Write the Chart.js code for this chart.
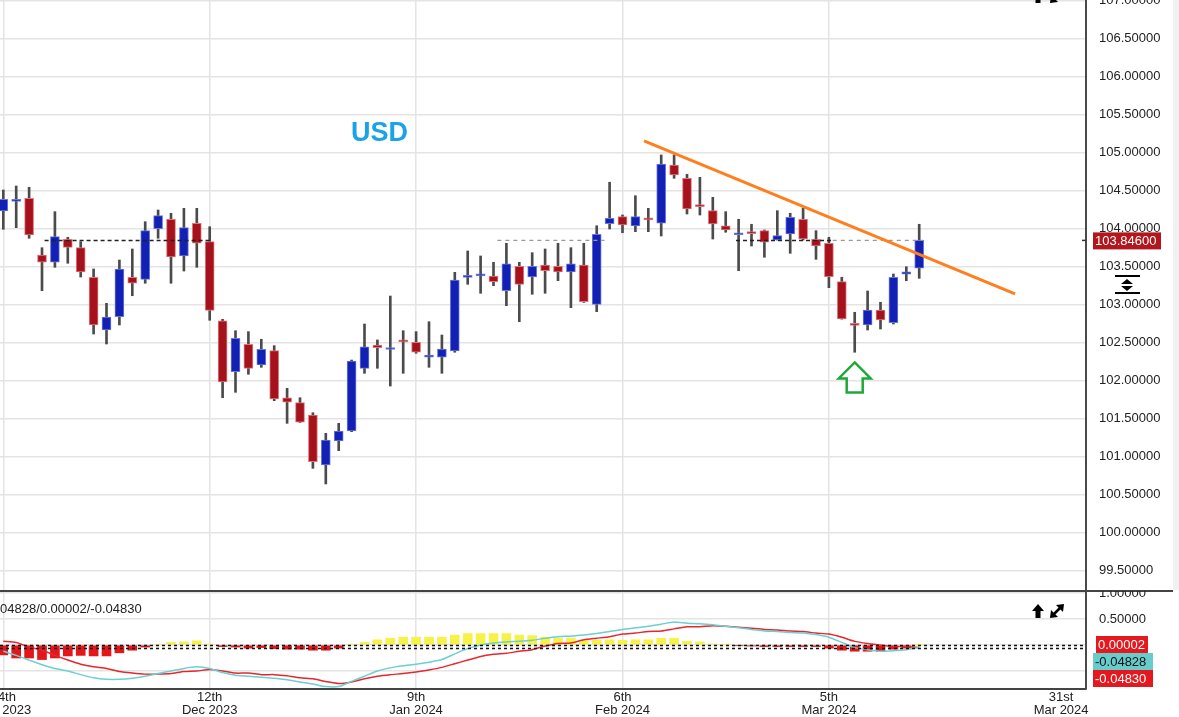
<!DOCTYPE html>
<html lang="en">
  <head>
    <meta charset="UTF-8" />
    <title>USD daily</title>
    <script src="https://cdn.jsdelivr.net/npm/chart.js@4.4.1/dist/chart.umd.min.js"></script>
    <style>
      body {
        margin: 0;
        width: 1179px;
        height: 717px;
        overflow: hidden;
        position: relative;
        background: #fff;
        font-family: "Liberation Sans", Arial, sans-serif;
      }
      #priceChart {
        position: absolute;
        left: 0;
        top: 0;
      }
      #macdChart {
        position: absolute;
        left: 0;
        top: 591px;
      }
      .symbol {
        position: absolute;
        left: 351px;
        top: 117px;
        color: #1aa3e6;
        font: bold 27px "Liberation Sans", Arial, sans-serif;
      }
    </style>
  </head>
  <body>
    <canvas id="priceChart" width="1179" height="592"></canvas>
    <canvas id="macdChart" width="1179" height="126"></canvas>
    <div class="symbol">USD</div>

    <script>
      // daily candles, mid Nov 2023 -> mid Mar 2024 (one per trading day)
      const opens = [
        104.233, 104.36, 104.4, 103.654, 103.558, 103.861, 103.75, 103.361, 102.667, 102.842,
        103.361, 103.334, 104.0, 104.124, 103.641, 104.071, 103.829, 102.789, 102.118, 102.479,
        102.207, 102.395, 101.776, 101.711, 101.549, 100.891, 101.207, 101.338, 102.163, 102.47,
        102.41, 102.52, 102.505, 102.308, 102.308, 102.391, 103.36, 103.38, 103.378, 103.184,
        103.505, 103.364, 103.522, 103.505, 103.43, 103.522, 103.005, 104.066, 104.158, 104.036,
        104.137, 104.071, 104.838, 104.663, 104.303, 104.237, 104.039, 103.92, 103.947, 103.974,
        103.851, 103.93, 104.124, 103.861, 103.808, 103.303, 102.74, 102.733, 102.93, 102.763,
        103.4, 103.479,
      ];
      const highs = [
        104.509, 104.562, 104.545, 103.75, 104.224, 103.887, 103.829, 103.47, 103.018, 103.588,
        103.733, 104.092, 104.246, 104.203, 104.268, 104.268, 104.026, 102.808, 102.658, 102.645,
        102.545, 102.461, 101.9, 101.776, 101.579, 101.308, 101.439, 102.272, 102.746, 102.536,
        103.114, 102.658, 102.645, 102.776, 102.601, 103.426, 103.707, 103.641, 103.558, 103.808,
        103.558, 103.684, 103.733, 103.808, 103.75, 103.808, 104.039, 104.611, 104.18, 104.434,
        104.268, 104.97, 104.97, 104.716, 104.676, 104.413, 104.224, 104.124, 104.058, 103.983,
        104.237, 104.203, 104.268, 103.974, 103.887, 103.361, 102.9, 103.18, 103.032, 103.404,
        103.5, 104.058,
      ];
      const lows = [
        103.992, 104.013, 103.874, 103.184, 103.492, 103.545, 103.364, 102.614, 102.483, 102.733,
        103.118, 103.282, 103.874, 103.282, 103.443, 103.492, 102.795, 101.776, 101.847, 102.084,
        102.176, 101.737, 101.439, 101.45, 100.847, 100.641, 101.079, 101.329, 102.097, 102.163,
        101.93, 102.097, 102.361, 102.176, 102.097, 102.374, 103.268, 103.15, 103.25, 102.987,
        102.776, 103.137, 103.15, 103.316, 102.961, 103.03, 102.908, 103.996, 103.947, 103.961,
        103.961, 103.904, 104.663, 104.193, 104.18, 103.864, 103.953, 103.447, 103.772, 103.624,
        103.85, 103.676, 103.851, 103.597, 103.224, 102.81, 102.374, 102.667, 102.68, 102.746,
        103.316, 103.347,
      ];
      const closes = [
        104.387, 104.372, 103.917, 103.558, 103.895, 103.755, 103.43, 102.733, 102.838, 103.47,
        103.282, 103.974, 104.171, 103.628, 104.013, 103.808, 102.926, 101.983, 102.558, 102.163,
        102.413, 101.759, 101.716, 101.453, 100.934, 101.22, 101.338, 102.259, 102.447, 102.434,
        102.418, 102.51, 102.374, 102.338, 102.417, 103.325, 103.37, 103.39, 103.303, 103.536,
        103.268, 103.505, 103.447, 103.43, 103.536, 103.039, 103.926, 104.137, 104.049, 104.158,
        104.115, 104.851, 104.707, 104.259, 104.29, 104.062, 103.983, 103.926, 103.934, 103.821,
        103.908, 104.15, 103.864, 103.772, 103.368, 102.812, 102.728, 102.93, 102.799, 103.361,
        103.434, 103.846,
      ];

      // MACD pane
      const macdLine = [
        -0.12, -0.2, -0.29, -0.38, -0.45, -0.5, -0.57, -0.63, -0.66, -0.66,
        -0.64, -0.6, -0.55, -0.5, -0.45, -0.42, -0.45, -0.53, -0.58, -0.6,
        -0.62, -0.64, -0.67, -0.71, -0.75, -0.8, -0.8, -0.7, -0.6, -0.5,
        -0.44, -0.4, -0.37, -0.33, -0.28, -0.17, -0.07, 0.0, 0.04, 0.06,
        0.07, 0.09, 0.13, 0.16, 0.17, 0.19, 0.22, 0.26, 0.3, 0.33,
        0.36, 0.4, 0.44, 0.42, 0.41, 0.39, 0.36, 0.33, 0.3, 0.27,
        0.26, 0.24, 0.23, 0.2, 0.15, 0.05, -0.05, -0.09, -0.12, -0.11,
        -0.09, -0.04828,
      ];
      const signalLine = [
        0.07, 0.05, -0.04, -0.1, -0.2, -0.29, -0.37, -0.42, -0.45, -0.51,
        -0.54, -0.56, -0.56, -0.55, -0.51, -0.5, -0.47, -0.5, -0.54, -0.54,
        -0.57, -0.57, -0.59, -0.63, -0.65, -0.7, -0.74, -0.71, -0.65, -0.6,
        -0.57, -0.55, -0.52, -0.48, -0.43, -0.36, -0.29, -0.22, -0.18, -0.16,
        -0.12, -0.09, -0.02, 0.03, 0.04, 0.1, 0.13, 0.16, 0.21, 0.23,
        0.26, 0.27, 0.31, 0.35, 0.35, 0.37, 0.36, 0.34, 0.32, 0.3,
        0.29, 0.27, 0.26, 0.23, 0.21, 0.15, 0.07, 0.03, 0.0, -0.03,
        -0.03, -0.0483,
      ];
      const histValues = [
        -0.19, -0.25, -0.25, -0.28, -0.25, -0.21, -0.2, -0.21, -0.21, -0.15,
        -0.1, -0.04, 0.01, 0.05, 0.06, 0.08, 0.02, -0.03, -0.04, -0.06,
        -0.05, -0.07, -0.08, -0.08, -0.1, -0.1, -0.06, 0.01, 0.05, 0.1,
        0.13, 0.15, 0.15, 0.15, 0.15, 0.19, 0.22, 0.22, 0.22, 0.22,
        0.19, 0.18, 0.15, 0.13, 0.13, 0.09, 0.09, 0.1, 0.09, 0.1,
        0.1, 0.13, 0.13, 0.07, 0.06, 0.02, 0.005, -0.01, -0.02, -0.03,
        -0.03, -0.03, -0.03, -0.03, -0.06, -0.1, -0.12, -0.12, -0.12, -0.08,
        -0.06, 0.00002,
      ];

      // axis ticks (x in trading-day index)
      const gridTicks = [0, 16, 32, 48, 64];
      const dateTicks = [0, 16, 32, 48, 64, 82];
      const dateLabels = [
        ["14th", "Nov 2023"],
        ["12th", "Dec 2023"],
        ["9th", "Jan 2024"],
        ["6th", "Feb 2024"],
        ["5th", "Mar 2024"],
        ["31st", "Mar 2024"],
      ];
      const priceTicks = [99.5, 100, 100.5, 101, 101.5, 102, 102.5, 103, 103.5, 104, 104.5, 105, 105.5, 106, 106.5, 107];
      const macdTicks = [-0.5, 0, 0.5, 1];

      // drawn annotations
      const trendIdx = [49.67, 78.43];
      const trendVal = [105.154, 103.141];
      const levelBlack = [[3.2, 16.2], [56.8, 64.3]];
      const levelGray = [[38.3, 46.6], [64.3, 71.3]];
      const arrowIdx = 66;
      const arrowVal = 102.24;

      const FONT = '"Liberation Sans", Arial, sans-serif';
      Chart.defaults.font.family = FONT;

      const lastClose = closes[closes.length - 1];
      const isUp = closes.map((c, i) => c >= opens[i]);

      const bodies = closes.map((c, i) => ({ x: i, y: [opens[i], c] }));
      const wicks = closes.map((c, i) => ({ x: i, y: [lows[i], highs[i]] }));
      const trendPoints = trendIdx.map((x, i) => ({ x: x, y: trendVal[i] }));

      function levelPoints(spans) {
        const pts = [];
        spans.forEach((s) => {
          pts.push({ x: s[0], y: lastClose }, { x: s[1], y: lastClose }, { x: s[1] + 0.01, y: null });
        });
        return pts;
      }

      // kill the label padding Chart.js reserves around axes
      function noPad(s) {
        s.paddingTop = 0;
        s.paddingBottom = 0;
        s.paddingLeft = 0;
        s.paddingRight = 0;
      }

      function drawUpIcon(ctx, cx, top) {
        ctx.fillStyle = "#000";
        ctx.beginPath();
        ctx.moveTo(cx, top);
        ctx.lineTo(cx - 6, top + 7);
        ctx.lineTo(cx + 6, top + 7);
        ctx.closePath();
        ctx.fill();
        ctx.fillRect(cx - 2.5, top + 7, 5, 7);
      }

      function drawExpandIcon(ctx, x0, top) {
        ctx.strokeStyle = "#000";
        ctx.fillStyle = "#000";
        ctx.lineWidth = 2.5;
        ctx.beginPath();
        ctx.moveTo(x0 + 3, top + 11);
        ctx.lineTo(x0 + 11, top + 3);
        ctx.stroke();
        ctx.beginPath();
        ctx.moveTo(x0 + 14, top);
        ctx.lineTo(x0 + 6, top + 1);
        ctx.lineTo(x0 + 13, top + 8);
        ctx.closePath();
        ctx.fill();
        ctx.beginPath();
        ctx.moveTo(x0, top + 14);
        ctx.lineTo(x0 + 1, top + 6);
        ctx.lineTo(x0 + 8, top + 13);
        ctx.closePath();
        ctx.fill();
      }

      const priceOverlay = {
        id: "priceOverlay",
        afterDraw(chart) {
          const { ctx, chartArea, scales } = chart;
          const right = chartArea.right;
          ctx.save();

          // light strip at the far right
          ctx.fillStyle = "#f1f1f1";
          ctx.fillRect(right + 87, 0, chart.width - right - 87, chartArea.bottom);

          // last price tag
          const py = scales.y.getPixelForValue(lastClose);
          ctx.strokeStyle = "#333";
          ctx.lineWidth = 1.5;
          ctx.beginPath();
          ctx.moveTo(right - 4, py);
          ctx.lineTo(right, py);
          ctx.stroke();
          ctx.fillStyle = "#b3171e";
          ctx.fillRect(right + 7, py - 8, 68, 17);
          ctx.fillStyle = "#fff";
          ctx.font = "13px " + FONT;
          ctx.textAlign = "left";
          ctx.textBaseline = "middle";
          ctx.fillText(lastClose.toFixed(5), right + 9, py + 1);

          // pane resize handle
          const hx = right + 41;
          ctx.fillStyle = "#000";
          ctx.fillRect(hx - 12, 275, 25, 2);
          ctx.fillRect(hx - 12, 292, 25, 2);
          ctx.beginPath();
          ctx.moveTo(hx, 279);
          ctx.lineTo(hx - 6, 284);
          ctx.lineTo(hx + 6, 284);
          ctx.closePath();
          ctx.fill();
          ctx.beginPath();
          ctx.moveTo(hx, 291);
          ctx.lineTo(hx - 6, 286);
          ctx.lineTo(hx + 6, 286);
          ctx.closePath();
          ctx.fill();

          // hollow green arrow under the low
          const ax = scales.x.getPixelForValue(arrowIdx);
          const ay = scales.y.getPixelForValue(arrowVal);
          ctx.strokeStyle = "#1fa83a";
          ctx.lineWidth = 2.5;
          ctx.lineJoin = "miter";
          ctx.beginPath();
          ctx.moveTo(ax, ay);
          ctx.lineTo(ax + 16, ay + 16);
          ctx.lineTo(ax + 8, ay + 16);
          ctx.lineTo(ax + 8, ay + 30);
          ctx.lineTo(ax - 8, ay + 30);
          ctx.lineTo(ax - 8, ay + 16);
          ctx.lineTo(ax - 16, ay + 16);
          ctx.closePath();
          ctx.stroke();

          // clipped toolbar icons at the very top
          drawUpIcon(ctx, 1038, -11);
          drawExpandIcon(ctx, 1050, -11);

          // pane separator
          ctx.strokeStyle = "#444";
          ctx.lineWidth = 2;
          ctx.beginPath();
          ctx.moveTo(0, chartArea.bottom + 1);
          ctx.lineTo(right + 87, chartArea.bottom + 1);
          ctx.stroke();
          ctx.restore();
        },
      };

      new Chart(document.getElementById("priceChart"), {
        type: "bar",
        data: {
          datasets: [
            {
              type: "line",
              data: trendPoints,
              borderColor: "#ff7f1f",
              borderWidth: 3,
              pointRadius: 0,
              order: 0,
            },
            {
              type: "line",
              data: levelPoints(levelBlack),
              borderColor: "#222",
              borderWidth: 1.5,
              borderDash: [4, 3],
              pointRadius: 0,
              spanGaps: false,
              order: 0,
            },
            {
              type: "line",
              data: levelPoints(levelGray),
              borderColor: "#9a9a9a",
              borderWidth: 1.2,
              borderDash: [4, 4],
              pointRadius: 0,
              spanGaps: false,
              order: 0,
            },
            {
              data: bodies,
              backgroundColor: isUp.map((u) => (u ? "#1220b4" : "#a5121b")),
              borderColor: isUp.map((u) => (u ? "#6a78e0" : "#e0777c")),
              borderWidth: 1,
              borderSkipped: false,
              barThickness: 9,
              minBarLength: 2,
              grouped: false,
              order: 1,
            },
            {
              data: wicks,
              backgroundColor: "#4b4b4b",
              barThickness: 2,
              grouped: false,
              order: 2,
            },
          ],
        },
        options: {
          responsive: false,
          animation: false,
          layout: { padding: { top: 0, left: 0, right: 0, bottom: 2 } },
          plugins: { legend: { display: false }, tooltip: { enabled: false } },
          scales: {
            x: {
              type: "linear",
              min: -0.256,
              max: 83.93,
              offset: false,
              grid: {
                color: (c) => (c.tick && gridTicks.includes(c.tick.value) ? "#e4e4e4" : "transparent"),
                lineWidth: 1.5,
                drawTicks: false,
                offset: false,
              },
              border: { display: false },
              ticks: { display: false },
              afterBuildTicks: (s) => {
                s.ticks = gridTicks.map((v) => ({ value: v }));
              },
              afterFit: (s) => {
                s.height = 0;
                noPad(s);
              },
            },
            y: {
              position: "right",
              min: 99.246,
              max: 107.009,
              grid: { color: "#e4e4e4", lineWidth: 1.5, drawTicks: false },
              border: { display: true, color: "#4a4a4a", width: 2 },
              ticks: {
                padding: 13,
                color: "#222",
                font: { size: 13 },
                callback: (v) => Number(v).toFixed(5),
              },
              afterBuildTicks: (s) => {
                s.ticks = priceTicks.map((v) => ({ value: v }));
              },
              afterFit: (s) => {
                s.width = 93;
                noPad(s);
              },
            },
          },
        },
        plugins: [priceOverlay],
      });

      const macdOverlay = {
        id: "macdOverlay",
        afterDatasetsDraw(chart) {
          const { ctx, chartArea, scales } = chart;
          ctx.save();
          ctx.strokeStyle = "#111";
          ctx.lineWidth = 1.5;
          ctx.setLineDash([3, 3]);
          [histValues[histValues.length - 1], macdLine[macdLine.length - 1]].forEach((v) => {
            const y = Math.round(scales.y.getPixelForValue(v)) + 0.5;
            ctx.beginPath();
            ctx.moveTo(0, y);
            ctx.lineTo(chartArea.right, y);
            ctx.stroke();
          });
          ctx.restore();
        },
        afterDraw(chart) {
          const { ctx, chartArea } = chart;
          const right = chartArea.right;
          const h = histValues[histValues.length - 1];
          const m = macdLine[macdLine.length - 1];
          const s = signalLine[signalLine.length - 1];
          ctx.save();
          ctx.font = "13px " + FONT;
          ctx.textBaseline = "middle";
          ctx.textAlign = "left";

          // header values, partly off the left edge
          const head = m.toFixed(5) + "/" + h.toFixed(5) + "/" + s.toFixed(5);
          ctx.fillStyle = "#222";
          ctx.fillText(head, -ctx.measureText("-0.").width, 18);

          drawUpIcon(ctx, 1038, 13);
          drawExpandIcon(ctx, 1050, 13);

          const boxes = [
            { text: h.toFixed(5), bg: "#e3191f", fg: "#fff", y: 53, x: right + 10, w: 52 },
            { text: m.toFixed(5), bg: "#66cccc", fg: "#111", y: 70, x: right + 7, w: 60 },
            { text: s.toFixed(5), bg: "#e3191f", fg: "#fff", y: 87, x: right + 7, w: 60 },
          ];
          boxes.forEach((b) => {
            ctx.fillStyle = b.bg;
            ctx.fillRect(b.x, b.y - 8, b.w, 17);
            ctx.fillStyle = b.fg;
            ctx.fillText(b.text, b.x + 2, b.y + 1);
          });
          ctx.restore();
        },
      };

      new Chart(document.getElementById("macdChart"), {
        type: "bar",
        data: {
          datasets: [
            {
              type: "line",
              data: macdLine.map((v, i) => ({ x: i, y: v })),
              borderColor: "#6ccfd0",
              borderWidth: 1.5,
              pointRadius: 0,
              tension: 0.2,
              order: 0,
            },
            {
              type: "line",
              data: signalLine.map((v, i) => ({ x: i, y: v })),
              borderColor: "#e8262d",
              borderWidth: 1.5,
              pointRadius: 0,
              tension: 0.2,
              order: 0,
            },
            {
              data: histValues.map((v, i) => ({ x: i, y: v })),
              backgroundColor: histValues.map((v) => (v >= 0 ? "#f7f24a" : "#e4161c")),
              barThickness: 9,
              grouped: false,
              order: 1,
            },
          ],
        },
        options: {
          responsive: false,
          animation: false,
          layout: { padding: { top: 1 } },
          plugins: { legend: { display: false }, tooltip: { enabled: false } },
          scales: {
            x: {
              type: "linear",
              min: -0.256,
              max: 83.93,
              offset: false,
              grid: {
                color: (c) => (c.tick && gridTicks.includes(c.tick.value) ? "#e4e4e4" : "transparent"),
                lineWidth: 1.5,
                drawTicks: false,
                offset: false,
              },
              border: { display: true, color: "#444", width: 2 },
              ticks: {
                autoSkip: false,
                maxRotation: 0,
                padding: 2,
                color: "#222",
                font: { size: 13, lineHeight: 1 },
                callback: (v) => dateLabels[dateTicks.indexOf(v)],
              },
              afterBuildTicks: (s) => {
                s.ticks = dateTicks.map((v) => ({ value: v }));
              },
              afterFit: (s) => {
                s.height = 28;
                noPad(s);
              },
            },
            y: {
              position: "right",
              min: -0.846,
              max: 1.019,
              grid: { color: "#e4e4e4", lineWidth: 1.5, drawTicks: false },
              border: { display: true, color: "#4a4a4a", width: 2 },
              ticks: {
                padding: 13,
                color: "#222",
                font: { size: 13 },
                callback: (v) => Number(v).toFixed(5),
              },
              afterBuildTicks: (s) => {
                s.ticks = macdTicks.map((v) => ({ value: v }));
              },
              afterFit: (s) => {
                s.width = 93;
                noPad(s);
              },
            },
          },
        },
        plugins: [macdOverlay],
      });
    </script>
  </body>
</html>
